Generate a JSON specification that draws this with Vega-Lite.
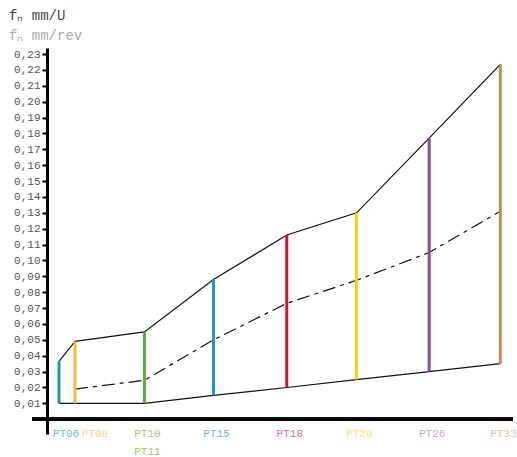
{
  "$schema": "https://vega.github.io/schema/vega-lite/v6.json",
  "width": 466,
  "height": 386,
  "autosize": "none",
  "padding": {"left": 47, "top": 48, "right": 4, "bottom": 23},
  "background": "white",
  "config": {
    "view": {"stroke": null},
    "axisY": {
      "labelExpr": "replace(format(datum.value,'.2f'),'.',',')",
      "grid": false,
      "domainColor": "black",
      "domainWidth": 3,
      "tickColor": "black",
      "tickWidth": 2,
      "tickSize": 5,
      "labelPadding": 2,
      "labelFont": "Liberation Mono",
      "labelFontSize": 11,
      "labelColor": "#555555",
      "labelOverlap": false,
      "labelFlush": false,
      "labelBound": false
    }
  },
  "title": {
    "text": "fₙ mm/U",
    "subtitle": "fₙ mm/rev",
    "anchor": "start",
    "frame": "group",
    "dx": -38,
    "offset": 5,
    "font": "Liberation Mono",
    "fontSize": 14,
    "fontWeight": "normal",
    "color": "#444444",
    "subtitleFont": "Liberation Mono",
    "subtitleFontSize": 14,
    "subtitleColor": "#aaaaaa",
    "subtitlePadding": 6
  },
  "data": {
    "values": [
      {"tool": "PT06", "pos": 0, "lo": 0.01, "hi": 0.0365, "mid": null},
      {"tool": "PT08", "pos": 0.225, "lo": 0.01, "hi": 0.049, "mid": 0.019},
      {"tool": "PT10", "pos": 1.2, "lo": 0.01, "hi": 0.055, "mid": 0.0245},
      {"tool": "PT15", "pos": 2.17, "lo": 0.015, "hi": 0.088, "mid": 0.05},
      {"tool": "PT18", "pos": 3.2, "lo": 0.02, "hi": 0.116, "mid": 0.073},
      {"tool": "PT20", "pos": 4.18, "lo": 0.025, "hi": 0.130, "mid": 0.0875},
      {"tool": "PT26", "pos": 5.2, "lo": 0.03, "hi": 0.177, "mid": 0.105},
      {"tool": "PT33", "pos": 6.2, "lo": 0.035, "hi": 0.2235, "mid": 0.131}
    ]
  },
  "encoding": {
    "x": {
      "field": "pos",
      "type": "quantitative",
      "scale": {"domain": [-0.1686, 6.378], "nice": false, "zero": false},
      "axis": {
        "values": [0, 0.225, 1.2, 2.17, 3.2, 4.18, 5.2, 6.2],
        "labelExpr": "datum.value==0?'PT06':datum.value==0.225?'PT08':datum.value==1.2?['PT10','PT11']:datum.value==2.17?'PT15':datum.value==3.2?'PT18':datum.value==4.18?'PT20':datum.value==5.2?'PT26':'PT33'",
        "domain": false,
        "ticks": false,
        "tickSize": 0,
        "grid": false,
        "title": null,
        "labelFont": "Liberation Mono",
        "labelFontSize": 11,
        "labelBaseline": "top",
        "labelPadding": -7,
        "labelLineHeight": 18,
        "labelFlush": false,
        "labelOverlap": false,
        "labelBound": false,
        "labelColor": {
          "condition": [
            {"test": "datum.value==0", "value": "#5cc0c7"},
            {"test": "datum.value==0.225", "value": "#fdd08c"},
            {"test": "datum.value==1.2", "value": "#8fcc6c"},
            {"test": "datum.value==2.17", "value": "#6cb8e0"},
            {"test": "datum.value==3.2", "value": "#ee6a7c"},
            {"test": "datum.value==4.18", "value": "#ffe066"},
            {"test": "datum.value==5.2", "value": "#c6a0d2"}
          ],
          "value": "#e3bd96"
        },
        "labelOffset": {
          "condition": [
            {"test": "datum.value==0", "value": 6.5},
            {"test": "datum.value==0.225", "value": 19.5}
          ],
          "value": 2.5
        }
      }
    }
  },
  "layer": [
    {
      "mark": {"type": "rule", "color": "black", "strokeWidth": 3, "clip": false},
      "encoding": {
        "x": {"datum": -0.379, "type": "quantitative"},
        "x2": {"datum": 6.378},
        "y": {
          "datum": 0,
          "type": "quantitative",
          "scale": {"domain": [-0.0093, 0.2338], "nice": false, "zero": false},
          "axis": {"title": null, "values": [0.01,0.02,0.03,0.04,0.05,0.06,0.07,0.08,0.09,0.10,0.11,0.12,0.13,0.14,0.15,0.16,0.17,0.18,0.19,0.20,0.21,0.22,0.23]}
        }
      }
    },
    {
      "mark": {"type": "line", "color": "#111111", "strokeWidth": 1.2},
      "encoding": {
        "y": {"field": "hi", "type": "quantitative", "axis": {"title": null, "values": [0.01,0.02,0.03,0.04,0.05,0.06,0.07,0.08,0.09,0.10,0.11,0.12,0.13,0.14,0.15,0.16,0.17,0.18,0.19,0.20,0.21,0.22,0.23]}}
      }
    },
    {
      "mark": {"type": "line", "color": "#111111", "strokeWidth": 1.2},
      "encoding": {
        "y": {"field": "lo", "type": "quantitative", "axis": {"title": null, "values": [0.01,0.02,0.03,0.04,0.05,0.06,0.07,0.08,0.09,0.10,0.11,0.12,0.13,0.14,0.15,0.16,0.17,0.18,0.19,0.20,0.21,0.22,0.23]}}
      }
    },
    {
      "mark": {"type": "line", "color": "#111111", "strokeWidth": 1.2, "strokeDash": [13, 5, 4, 5]},
      "encoding": {
        "y": {"field": "mid", "type": "quantitative", "axis": {"title": null, "values": [0.01,0.02,0.03,0.04,0.05,0.06,0.07,0.08,0.09,0.10,0.11,0.12,0.13,0.14,0.15,0.16,0.17,0.18,0.19,0.20,0.21,0.22,0.23]}}
      }
    },
    {
      "mark": {"type": "rule", "strokeWidth": 3},
      "encoding": {
        "y": {"field": "lo", "type": "quantitative", "axis": {"title": null, "values": [0.01,0.02,0.03,0.04,0.05,0.06,0.07,0.08,0.09,0.10,0.11,0.12,0.13,0.14,0.15,0.16,0.17,0.18,0.19,0.20,0.21,0.22,0.23]}},
        "y2": {"field": "hi"},
        "color": {
          "field": "tool",
          "type": "nominal",
          "legend": null,
          "scale": {
            "domain": ["PT06","PT08","PT10","PT15","PT18","PT20","PT26","PT33"],
            "range": ["#1a9ea6","#f8b73c","#59ad3b","#1b96cf","#d4102c","#f5d313","#8d4c9c","#c18c4f"]
          }
        }
      }
    }
  ]
}
